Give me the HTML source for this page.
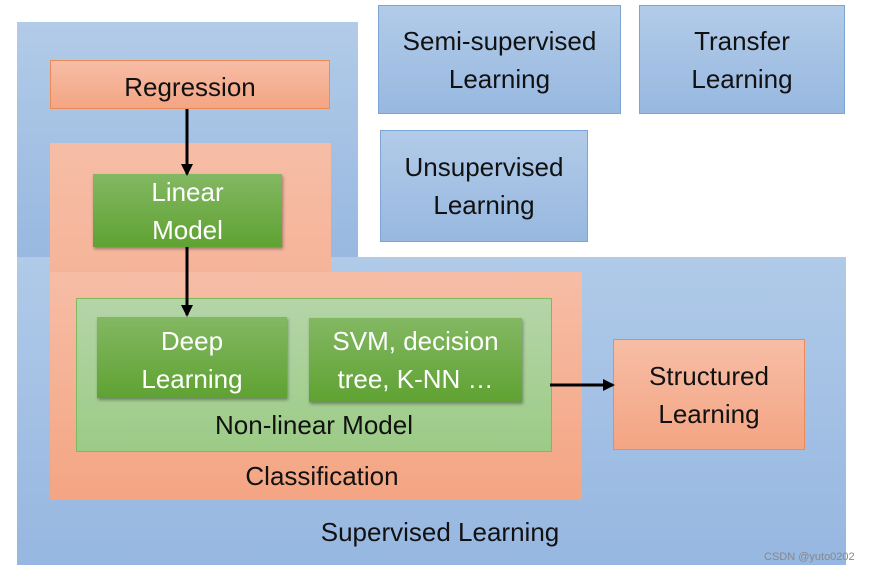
<!DOCTYPE html>
<html><head><style>
body{margin:0;width:889px;height:577px;background:#fff;position:relative;overflow:hidden;font-family:"Liberation Sans",sans-serif}
div{position:absolute;box-sizing:border-box}
.t{display:flex;align-items:center;justify-content:center;text-align:center;font-size:26px;line-height:38px;color:#111}
.blue{background:linear-gradient(#b2cbe8,#97b8e0)}
.bb{border:1.5px solid #7ea4d6}
.pk{background:linear-gradient(#f6bda6,#f4a583)}
.gr{background:linear-gradient(#83b863,#5fa232);color:#fff;box-shadow:1px 2px 3px rgba(0,0,0,.35)}
</style></head><body>
<div class="blue" style="left:17px;top:22px;width:341px;height:240px"></div>
<div class="blue" style="left:17px;top:257px;width:829px;height:308px;background:linear-gradient(#b0cae8,#96b7e1)"></div>
<div class="pk" style="left:50px;top:143px;width:281px;height:357px"></div>
<div class="pk" style="left:50px;top:272px;width:532px;height:228px"></div>
<div class="t pk" style="left:50px;top:60px;width:280px;height:49px;border:1.5px solid #ee8a55;padding-top:4px">Regression</div>
<div class="t gr" style="left:93px;top:174px;width:189px;height:73px">Linear<br>Model</div>
<div style="left:76px;top:298px;width:476px;height:154px;background:linear-gradient(#b5d5a8,#9ccb86);border:1.5px solid #7dbb5c"></div>
<div class="t gr" style="left:97px;top:317px;width:190px;height:81px;padding-top:4px">Deep<br>Learning</div>
<div class="t gr" style="left:309px;top:318px;width:213px;height:84px">SVM, decision<br>tree, K-NN …</div>
<div class="t" style="left:76px;top:405px;width:476px;height:40px">Non-linear Model</div>
<div class="t" style="left:50px;top:456px;width:544px;height:40px">Classification</div>
<div class="t" style="left:17px;top:512px;width:846px;height:40px">Supervised Learning</div>
<div class="t pk" style="left:613px;top:339px;width:192px;height:111px;border:1.5px solid #ee8a55">Structured<br>Learning</div>
<div class="t blue bb" style="left:378px;top:5px;width:243px;height:109px;padding-top:1px">Semi-supervised<br>Learning</div>
<div class="t blue bb" style="left:639px;top:5px;width:206px;height:109px;padding-top:1px">Transfer<br>Learning</div>
<div class="t blue bb" style="left:380px;top:130px;width:208px;height:112px">Unsupervised<br>Learning</div>
<div style="left:764px;top:551px;font-size:11px;color:#888">CSDN @yuto0202</div>
<svg width="889" height="577" style="position:absolute;left:0;top:0">
<defs><marker id="a" markerWidth="12" markerHeight="12" refX="10" refY="6" orient="auto" markerUnits="userSpaceOnUse"><path d="M0,0L12,6L0,12z" fill="#000"/></marker></defs>
<line x1="187" y1="109" x2="187" y2="174" stroke="#000" stroke-width="3" marker-end="url(#a)"/>
<line x1="187" y1="247" x2="187" y2="315" stroke="#000" stroke-width="3" marker-end="url(#a)"/>
<line x1="550" y1="385" x2="613" y2="385" stroke="#000" stroke-width="3" marker-end="url(#a)"/>
</svg>
</body></html>
